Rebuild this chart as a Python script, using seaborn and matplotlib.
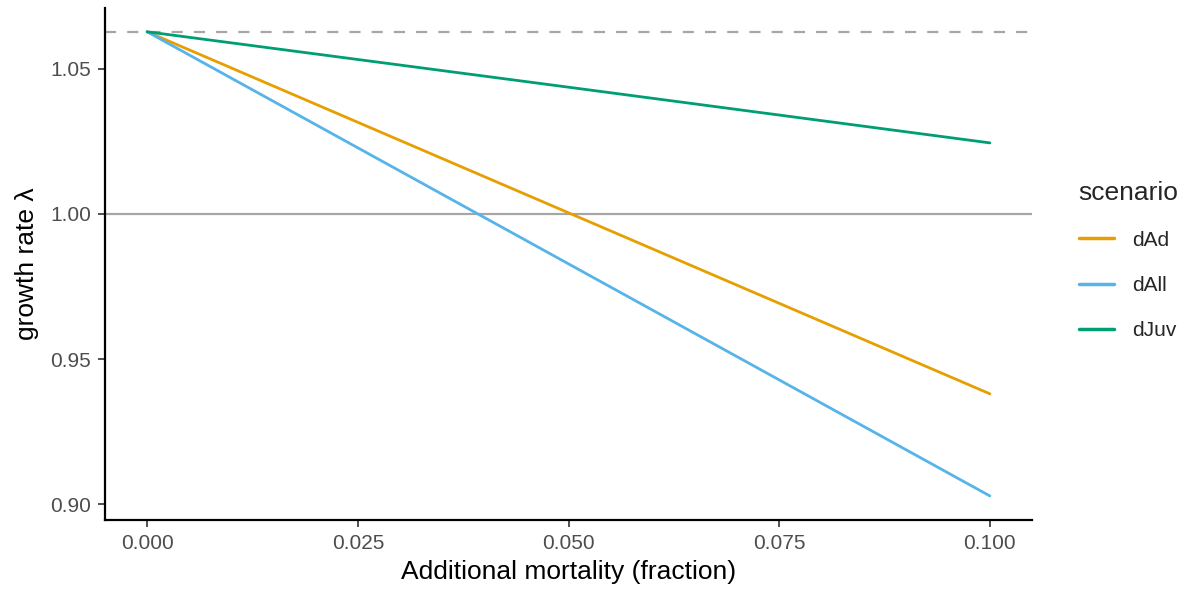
import matplotlib
matplotlib.use("Agg")
import matplotlib.pyplot as plt
import seaborn as sns
import pandas as pd

# Growth rate under extra mortality for each scenario
mortality = [0.0, 0.05, 0.1]
lambda_dAd = [1.0628, 1.0004, 0.938]
lambda_dAll = [1.0628, 0.9828, 0.9028]
lambda_dJuv = [1.0628, 1.0437, 1.0245]
baseline = 1.0628
scenarios = ["dAd", "dAll", "dJuv"]
colors = ["#E69F00", "#56B4E9", "#009E73"]

df = pd.DataFrame({
    "mortality": mortality * 3,
    "lam": lambda_dAd + lambda_dAll + lambda_dJuv,
    "scenario": [s for s in scenarios for _ in mortality],
})

sns.set_theme(style="ticks")
plt.rcParams["font.family"] = ["Liberation Sans", "DejaVu Sans"]

fig = plt.figure(figsize=(11.86, 5.9), dpi=100)
ax = fig.add_axes([105 / 1186, 1 - 520 / 590, (1032 - 105) / 1186, (520 - 8) / 590])

ax.axhline(baseline, color="#a6a6a6", lw=1.6, ls=(0, (5, 5)), zorder=1)
ax.axhline(1.0, color="#a6a6a6", lw=1.6, zorder=1)

sns.lineplot(data=df, x="mortality", y="lam", hue="scenario",
             palette=dict(zip(scenarios, colors)), hue_order=scenarios,
             lw=2, ax=ax, legend=False, zorder=3)

ax.set_xlim(-0.005, 0.105)
ax.set_ylim(0.8945, 1.071)
ax.set_xticks([0, 0.025, 0.05, 0.075, 0.1])
ax.set_xticklabels(["0.000", "0.025", "0.050", "0.075", "0.100"])
ax.set_yticks([0.9, 0.95, 1.0, 1.05])
ax.set_yticklabels(["0.90", "0.95", "1.00", "1.05"])
ax.tick_params(labelsize=15, labelcolor="#4d4d4d", color="#333333",
               length=5, width=1.2, pad=5)
for side in ["top", "right"]:
    ax.spines[side].set_visible(False)
for side in ["left", "bottom"]:
    ax.spines[side].set_linewidth(1.6)
    ax.spines[side].set_color("black")

ax.set_xlabel("Additional mortality (fraction)", fontsize=19, color="black", labelpad=5)
ax.set_ylabel("growth rate λ", fontsize=19, color="black", labelpad=8)

handles = [plt.Line2D([], [], color=c, lw=2.5) for c in colors]
leg = fig.legend(handles, scenarios, title="scenario", loc="upper left",
                 bbox_to_anchor=(1060 / 1186, 1 - 162 / 590), frameon=False,
                 fontsize=15, title_fontsize=19, handlelength=1.7,
                 labelspacing=1.25, handletextpad=0.85)
leg._legend_box.align = "left"

fig.savefig("out.png", dpi=100)
